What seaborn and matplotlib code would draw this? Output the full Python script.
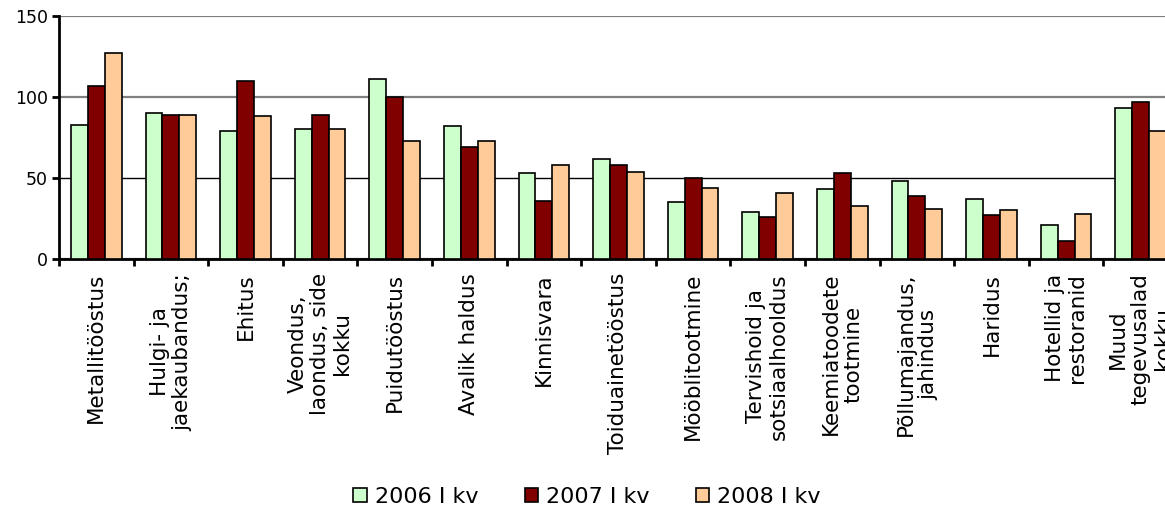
import numpy as np
import pandas as pd
import matplotlib
matplotlib.use('Agg')
import matplotlib.pyplot as plt
import seaborn as sns

""" DATA """
categories = [
	'Metallitööstus',
	'Hulgi- ja\njaekaubandus;',
	'Ehitus',
	'Veondus,\nlaondus, side\nkokku',
	'Puidutööstus',
	'Avalik haldus',
	'Kinnisvara',
	'Toiduainetööstus',
	'Mööblitootmine',
	'Tervishoid ja\nsotsiaalhooldus',
	'Keemiatoodete\ntootmine',
	'Põllumajandus,\njahindus',
	'Haridus',
	'Hotellid ja\nrestoranid',
	'Muud\ntegevusalad\nkokku',
]
periods = ['2006 I kv', '2007 I kv', '2008 I kv']
v2006 = [83, 90, 79, 80, 111, 82, 53, 62, 35, 29, 43, 48, 37, 21, 93]
v2007 = [107, 89, 110, 89, 100, 69, 36, 58, 50, 26, 53, 39, 27, 11, 97]
v2008 = [127, 89, 88, 80, 73, 73, 58, 54, 44, 41, 33, 31, 30, 28, 79]
colors = ['#CCFFCC', '#800000', '#FFCC99']
yticks = [0, 50, 100, 150]

df = pd.DataFrame({
	'category': categories * 3,
	'period': np.repeat(periods, len(categories)),
	'value': v2006 + v2007 + v2008,
})

""" PLOT """
plt.rc('font', family='DejaVu Sans')
fig = plt.figure(figsize=(11.65, 5.08), dpi=100)
ax = fig.add_axes([59/1165, 1-259/508, (1178-59)/1165, 243/508])

sns.barplot(data=df, x='category', y='value', hue='period', palette=colors,
			width=0.68, gap=0, edgecolor='black', linewidth=1.2, saturation=1,
			ax=ax, zorder=3)

ax.set_xlim(-0.5, len(categories)-0.5)
ax.set_ylim(0, 150)
ax.set_yticks(yticks)
ax.set_yticklabels([str(t) for t in yticks], fontsize=12.5)
ax.set_xlabel('')
ax.set_ylabel('')

# gridlines: upper ones grey, the 50 one black
ax.grid(axis='y', zorder=0)
ax.set_axisbelow(True)
for line, t in zip(ax.get_ygridlines(), yticks):
	if t == 50:
		line.set_color('black')
		line.set_linewidth(1.0)
	else:
		line.set_color('#808080')
		line.set_linewidth(1.6)

# labels at category centres, tick marks at the boundaries
ax.set_xticks(range(len(categories)))
ax.set_xticklabels(categories, rotation=90, ha='center', va='top',
				   multialignment='center', fontsize=15.5, linespacing=1.15)
ax.tick_params(axis='x', which='major', length=0, pad=10)
ax.set_xticks(np.arange(-0.5, len(categories)), minor=True)
ax.tick_params(axis='x', which='minor', length=5, width=2, color='black')
ax.tick_params(axis='y', length=5, width=2, color='black', pad=3)

for side in ['top', 'right']:
	ax.spines[side].set_visible(False)
for side in ['left', 'bottom']:
	ax.spines[side].set_linewidth(2)
	ax.spines[side].set_color('black')

handles, labels = ax.get_legend_handles_labels()
ax.get_legend().remove()
fig.legend(handles, labels, loc='center', bbox_to_anchor=(587/1165, 1-497/508),
		   ncol=3, frameon=False, fontsize=16, handlelength=0.6, handleheight=0.6,
		   handletextpad=0.35, columnspacing=2.1)

plt.savefig('out.png', dpi=100)
plt.close()
